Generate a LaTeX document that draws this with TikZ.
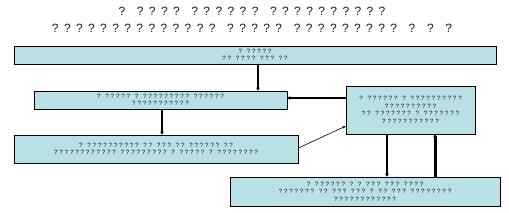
\documentclass[tikz,border=0pt]{standalone}
\usepackage{fontspec}
\usepackage{xcolor}
\usepackage{tikz}
\usetikzlibrary{arrows.meta, positioning, calc}
\newfontfamily\headfont[LetterSpace=45]{Liberation Sans}
\newfontfamily\boxfont[LetterSpace=30]{Liberation Sans}
\definecolor{boxcyan}{RGB}{185, 224, 228}
\definecolor{inkdark}{RGB}{30, 20, 40}
\tikzstyle{block} = [
    rectangle,
    draw=black,
    line width=0.9pt,
    fill=boxcyan,
    align=center,
    inner sep=0pt,
    text=inkdark,
    font=\boxfont\fontsize{6.2}{7.6}\selectfont
]
\tikzstyle{arrow} = [
    line width=2.6pt,
    -{Stealth[length=3pt, width=4pt]},
    color=black
]

\begin{document}
\begin{tikzpicture}[x=1pt, y=-1pt]
        \useasboundingbox (0,0) rectangle (509,212);
        % Heading
        \node[align=center, text=inkdark, font=\headfont\fontsize{12}{17}\selectfont] (head) at (252,20)
            {? ???? ?????? ??????????\\?????????????? ????? ????????? ? ? ?};
        % Blocks
        \node[block, minimum width=482, minimum height=18] (top) at (255,55) {? ?????\\?? ???? ??? ??};
        \node[block, minimum width=253, minimum height=18] (mid) at (160.5,100) {? ????? ? ????????? ??????\\???????????};
        \node[block, minimum width=284, minimum height=28] (low) at (156,149) {? ?????????? ?? ??? ?? ?????? ??\\???????????? ????????? ? ????? ? ????????};
        \node[block, minimum width=129, minimum height=48] (side) at (410.5,110) {? ?????? ? ??????????\\??????????\\?? ??????? ? ???????\\???????????};
        \node[block, minimum width=270, minimum height=29] (base) at (365,191.5) {? ?????? ? ? ??? ??? ????\\??????? ?? ??? ??? ? ?? ??? ????????\\????????????};
        % Arrows
        \coordinate (down) at ([xshift=-23.5pt]side.south);
        \coordinate (up) at ([xshift=70pt]base.north);
        \draw[arrow] ([xshift=3pt]top.south) -- ([xshift=3pt]top.south |- mid.north);
        \draw[arrow] ([xshift=1.5pt]mid.south) -- ([xshift=1.5pt]mid.south |- low.north);
        \draw[arrow, line width=2.2pt] (side.west |- 0,98) -- (mid.east |- 0,98);
        \draw[line width=0.6pt, -{Stealth[length=3pt, width=3pt]}] ([yshift=1pt]low.east) -- (side.194);
        \draw[arrow, line width=2pt] (down) -- (down |- base.north);
        \draw[arrow, line width=3pt] (up) -- (up |- side.south);
    \end{tikzpicture}
\end{document}
